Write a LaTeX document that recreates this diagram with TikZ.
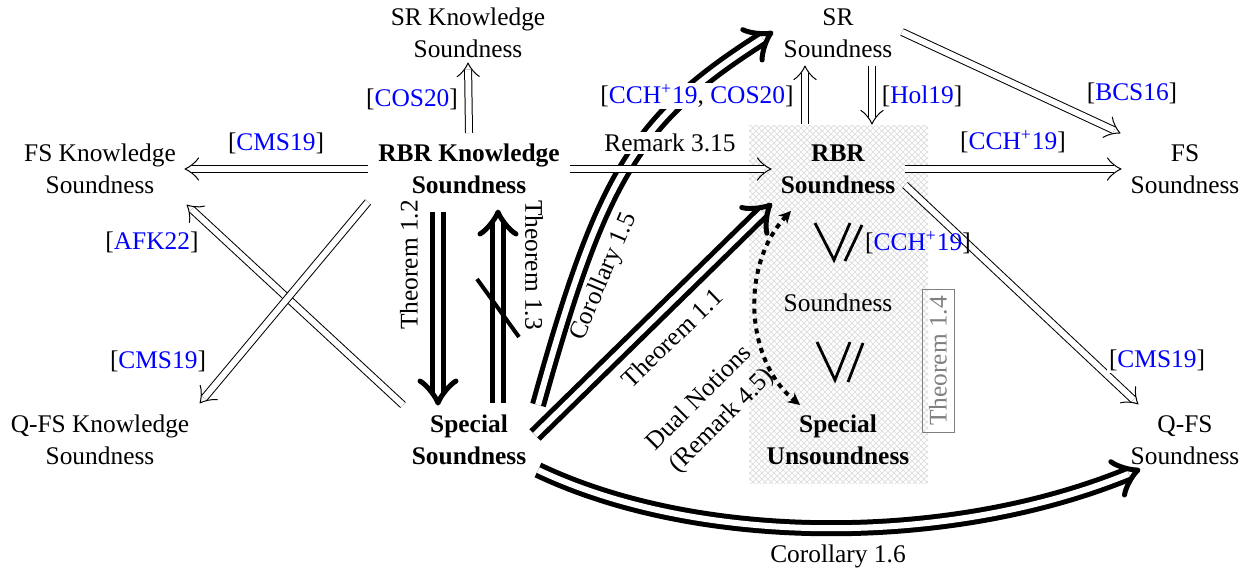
\documentclass[tikz,border=0pt]{standalone}
\usepackage{fontspec}
\setmainfont{Liberation Serif}
\usetikzlibrary{arrows.meta,patterns,calc}
\newcommand\rf[1]{[\textcolor{blue}{#1}]}
% custom heads: #1 tip coordinate, #2 a point behind the tip on the line
\newcommand\thicktip[2]{\draw[line width=2.5pt, line cap=round, line join=round]
  ($(#1)!14.2pt!39.3:(#2)$) .. controls ($(#1)!10.55pt!31.4:(#2)$) and ($(#1)!3.16pt!18.4:(#2)$) .. (#1)
  .. controls ($(#1)!3.16pt!-18.4:(#2)$) and ($(#1)!10.55pt!-31.4:(#2)$) .. ($(#1)!14.2pt!-39.3:(#2)$);}
\newcommand\thintip[2]{\draw[line width=0.5pt, line cap=round, line join=round]
  ($(#1)!8.8pt!39.3:(#2)$) .. controls ($(#1)!6.54pt!31.4:(#2)$) and ($(#1)!1.96pt!18.4:(#2)$) .. (#1)
  .. controls ($(#1)!1.96pt!-18.4:(#2)$) and ($(#1)!6.54pt!-31.4:(#2)$) .. ($(#1)!8.8pt!-39.3:(#2)$);}
\begin{document}
\begin{tikzpicture}[x=0.5pt,y=-0.5pt,
  every node/.style={font=\fontsize{12.7}{16}\selectfont, align=center, inner sep=0pt},
  bnode/.style={font=\fontsize{12.7}{16}\selectfont\bfseries},
  lbl/.style={fill=white, inner sep=1pt},
  thinline/.style={double, double distance=3pt, line width=0.5pt, shorten >=3.3pt},
  thickline/.style={double, double distance=3pt, line width=2.5pt, shorten >=5pt},
  vsym/.style={line width=1.4pt},
]
\useasboundingbox (0,0) rectangle (1251,575);
% hatched area
\fill[pattern=north east lines, pattern color=gray!24] (749,125) rectangle (928,483);
\fill[pattern=north west lines, pattern color=gray!24] (749,125) rectangle (928,483);

% nodes
\node (srk) at (468,33) {SR Knowledge\\Soundness};
\node (sr) at (838,33) {SR\\Soundness};
\node (fsk) at (100,169) {FS Knowledge\\Soundness};
\node[bnode] (rbrk) at (469,169) {RBR Knowledge\\Soundness};
\node[bnode] (rbr) at (838,169) {RBR\\Soundness};
\node (fs) at (1185,169) {FS\\Soundness};
\node (snd) at (838,303) {Soundness};
\node[bnode] (sun) at (838,440) {Special\\Unsoundness};
\node (qfsk) at (100,440) {Q-FS Knowledge\\Soundness};
\node[bnode] (ss) at (469,440) {Special\\Soundness};
\node (qfs) at (1185,440) {Q-FS\\Soundness};
\node[draw=gray, text=gray, rotate=90, inner sep=3.5pt, line width=0.5pt] (t14) at (938,361) {Theorem 1.4};

% connector end points
\coordinate (c15s) at ($(ss)+(69,-35)$);   \coordinate (c15t) at ($(sr)+(-67,0)$);
\coordinate (c15a) at (602,175);           \coordinate (c15b) at (636,119);
\coordinate (c16s) at ($(ss)+(69,30)$);    \coordinate (c16t) at ($(qfs)+(-47,30)$);
\coordinate (c16a) at (700,547);           \coordinate (c16b) at (950,547);
\coordinate (a1s) at ($(rbrk)+(0,-36)$);   \coordinate (a1t) at ($(srk)+(0,30)$);
\coordinate (a2s) at ($(rbrk)+(-101,0)$);  \coordinate (a2t) at ($(fsk)+(85,0)$);
\coordinate (a3s) at ($(rbrk)+(101,0)$);   \coordinate (a3t) at ($(rbr)+(-67,0)$);
\coordinate (a4s) at ($(rbr)+(-33,-45)$);  \coordinate (a4t) at ($(sr)+(-33,33)$);
\coordinate (a5s) at ($(sr)+(34,33)$);     \coordinate (a5t) at ($(rbr)+(34,-45)$);
\coordinate (a6s) at ($(sr)+(64,-1)$);     \coordinate (a6t) at ($(fs)+(-65,-36)$);
\coordinate (a7s) at ($(rbr)+(67,0)$);     \coordinate (a7t) at ($(fs)+(-64,0)$);
\coordinate (a8s) at ($(rbr)+(67,16)$);    \coordinate (a8t) at ($(qfs)+(-47,-36)$);
\coordinate (a9s) at ($(ss)+(-66,-35)$);   \coordinate (a9t) at ($(fsk)+(87,36)$);
\coordinate (a10s) at ($(rbrk)+(-101,33)$); \coordinate (a10t) at ($(qfsk)+(100,-37)$);
\coordinate (t12s) at ($(rbrk)+(-31,43)$); \coordinate (t12t) at ($(ss)+(-31,-37)$);
\coordinate (t13s) at ($(ss)+(29,-37)$);   \coordinate (t13t) at ($(rbrk)+(29,43)$);
\coordinate (t11s) at ($(ss)+(66,-5)$);    \coordinate (t11t) at ($(rbr)+(-68,36)$);

% thick curved arrows first (other arrows and labels lie over them)
\draw[thickline] (c15s) .. controls (c15a) and (c15b) .. (c15t); \thicktip{c15t}{c15b}
\draw[thickline] (c16s) .. controls (c16a) and (c16b) .. (c16t); \thicktip{c16t}{c16b}

% thin implications
\foreach \k in {1,...,10}{
  \draw[thinline] (a\k s) -- (a\k t); \thintip{a\k t}{a\k s}
}

% thick implications
\draw[thickline] (t12s) -- (t12t); \thicktip{t12t}{t12s}
\draw[thickline] (t13s) -- (t13t); \thicktip{t13t}{t13s}
\draw[line width=2pt] (477,279) -- (519,337);
\draw[thickline] (t11s) -- (t11t); \thicktip{t11t}{t11s}

% dotted dual
\draw[line width=2pt, dash pattern=on 2.5pt off 2.5pt, {Stealth[length=6pt,width=6pt]}-{Stealth[length=6pt,width=6pt]}]
  ($(rbr)+(-47,42)$) .. controls (740,265) and (745,360) .. ($(sun)+(-38,-35)$);

% strict symbols
\draw[vsym] (815,223) -- (834,260) -- (850,223);
\draw[vsym] (862,225) -- (845,261);
\draw[vsym] (817,342) -- (835,380) -- (850,342);
\draw[vsym] (863,343) -- (848,382);

% labels
\node[lbl] (l1) at (412,99) {\rf{COS20}};
\node[lbl] (l2) at (276,143) {\rf{CMS19}};
\node[lbl] (l3) at (670,143) {Remark 3.15};
\node[lbl] (l4) at (697,96) {[\textcolor{blue}{CCH\textsuperscript{+}19}, \textcolor{blue}{COS20}]};
\node[lbl] (l5) at (922,96) {\rf{Hol19}};
\node[lbl] (l6) at (1132,93) {\rf{BCS16}};
\node[lbl] (l7) at (1013,142) {\rf{CCH\textsuperscript{+}19}};
\node (l8) at (918,243) {\rf{CCH\textsuperscript{+}19}};
\node[lbl] (l9) at (1157,360) {\rf{CMS19}};
\node[lbl] (l10) at (152,242) {\rf{AFK22}};
\node[lbl] (l11) at (158,361) {\rf{CMS19}};
\node[rotate=90] (l12) at (409,265) {Theorem 1.2};
\node[rotate=-90] (l13) at (534,265) {Theorem 1.3};
\node[rotate=67] (l14) at (604,277) {Corollary 1.5};
\node[rotate=44] (l15) at (672,338) {Theorem 1.1};
\node[rotate=45] (l16) at (711,410) {Dual Notions\\(Remark 4.5)};
\node (l17) at (838,556) {Corollary 1.6};
\end{tikzpicture}
\end{document}
